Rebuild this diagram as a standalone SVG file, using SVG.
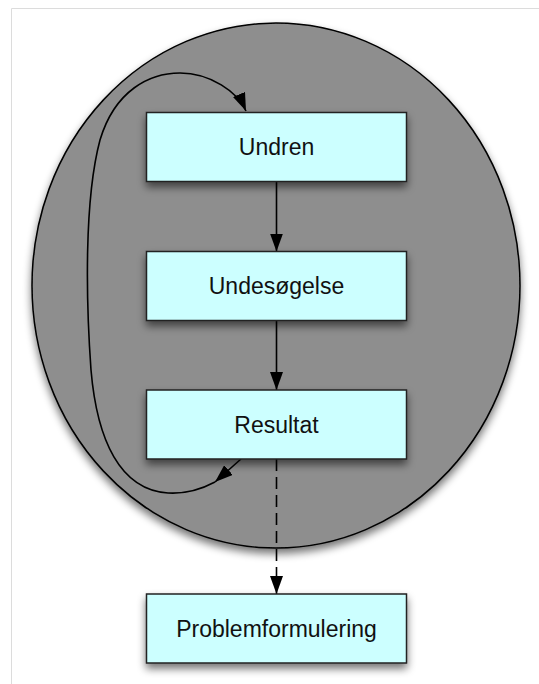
<svg xmlns="http://www.w3.org/2000/svg" width="539" height="684" viewBox="0 0 539 684">
  <style>
    .frame { stroke: #dcdcdc; stroke-width: 1; fill: none; }
    .region { fill: #8e8e8e; stroke: #000; stroke-width: 1.5; }
    .box { fill: #ccffff; stroke: #222; stroke-width: 1.5; }
    .label { font-family: "Liberation Sans", Arial, Helvetica, sans-serif; font-size: 23px; fill: #111; text-anchor: middle; }
    .edge { fill: none; stroke: #000; stroke-width: 1.6; }
    .dashed { stroke-dasharray: 12 6; }
  </style>
  <defs>
    <filter id="shadow" x="-20%" y="-20%" width="140%" height="150%">
      <feGaussianBlur in="SourceAlpha" stdDeviation="4"/>
      <feOffset dx="0" dy="5" result="b"/>
      <feComponentTransfer><feFuncA type="linear" slope="0.55"/></feComponentTransfer>
      <feMerge><feMergeNode/><feMergeNode in="SourceGraphic"/></feMerge>
    </filter>
    <marker id="head" viewBox="0 0 18 13" refX="18" refY="6.5" markerWidth="18" markerHeight="13" markerUnits="userSpaceOnUse" orient="auto">
      <path d="M0,0 L18,6.5 L0,13 Z" fill="#000"/>
    </marker>
  </defs>

  <!-- page frame -->
  <path class="frame" d="M11.5,684 L11.5,8.5 L539,8.5"/>

  <!-- enclosing region -->
  <g id="region">
    <ellipse class="region" cx="276" cy="285.5" rx="244" ry="262.5" filter="url(#shadow)"/>
  </g>

  <!-- connectors -->
  <g id="connectors">
    <path class="edge" d="M276.5,181.5 L276.5,251.5" marker-end="url(#head)"/>
    <path class="edge" d="M276.5,320.5 L276.5,390" marker-end="url(#head)"/>
    <path class="edge dashed" d="M276.5,459 L276.5,594" marker-end="url(#head)"/>
    <path class="edge" d="M241,459 L215,482" marker-end="url(#head)"/>
    <path class="edge" d="M215,482 C200,490 185,494 168,493 C120,490 97,440 91,370 C86,300 84,200 100,140 C115,90 150,73 180,73 C210,73 238,92 246,111" marker-end="url(#head)"/>
  </g>

  <!-- nodes -->
  <g id="undren">
    <rect class="box" x="146.5" y="112.5" width="260" height="69" filter="url(#shadow)"/>
    <text class="label" x="276.5" y="155">Undren</text>
  </g>
  <g id="undesogelse">
    <rect class="box" x="146.5" y="251.5" width="260" height="69" filter="url(#shadow)"/>
    <text class="label" x="276.5" y="294">Undesøgelse</text>
  </g>
  <g id="resultat">
    <rect class="box" x="146.5" y="390" width="260" height="69" filter="url(#shadow)"/>
    <text class="label" x="276.5" y="432.5">Resultat</text>
  </g>
  <g id="problemformulering">
    <rect class="box" x="146.5" y="594" width="260" height="69" filter="url(#shadow)"/>
    <text class="label" x="276.5" y="636.5">Problemformulering</text>
  </g>
</svg>
